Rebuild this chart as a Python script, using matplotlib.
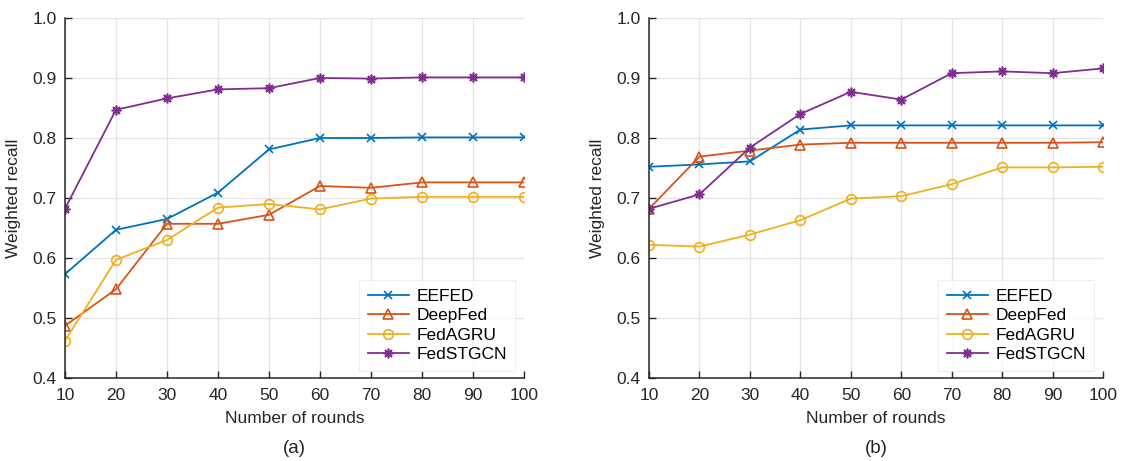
import numpy as np
import matplotlib.pyplot as plt

plt.rcParams['font.family'] = ['Liberation Sans', 'DejaVu Sans']

rounds = [10, 20, 30, 40, 50, 60, 70, 80, 90, 100]
methods = ['EEFED', 'DeepFed', 'FedAGRU', 'FedSTGCN']

# weighted recall, panel (a)
eefed_a = [0.573, 0.647, 0.665, 0.709, 0.781, 0.800, 0.800, 0.801, 0.801, 0.801]
deepfed_a = [0.487, 0.548, 0.657, 0.657, 0.672, 0.720, 0.717, 0.726, 0.726, 0.726]
fedagru_a = [0.462, 0.597, 0.630, 0.684, 0.690, 0.681, 0.699, 0.702, 0.702, 0.702]
fedstgcn_a = [0.682, 0.847, 0.866, 0.881, 0.883, 0.900, 0.899, 0.901, 0.901, 0.901]

# weighted recall, panel (b)
eefed_b = [0.752, 0.756, 0.761, 0.814, 0.821, 0.821, 0.821, 0.821, 0.821, 0.821]
deepfed_b = [0.682, 0.769, 0.779, 0.789, 0.792, 0.792, 0.792, 0.792, 0.792, 0.793]
fedagru_b = [0.622, 0.619, 0.639, 0.663, 0.699, 0.703, 0.723, 0.751, 0.751, 0.752]
fedstgcn_b = [0.682, 0.706, 0.784, 0.840, 0.877, 0.864, 0.908, 0.911, 0.908, 0.916]

colors = ['#0072BD', '#D95319', '#EDB120', '#7E2F8E']
markers = ['x', '^', 'o', (8, 2, 0)]
msizes = [5.5, 7, 7, 7]

fig = plt.figure(figsize=(11.26, 4.61), dpi=100)
ax1 = fig.add_axes([0.0577, 0.180, 0.4077, 0.781])
ax2 = fig.add_axes([0.5764, 0.180, 0.4032, 0.781])

panels = [(ax1, [eefed_a, deepfed_a, fedagru_a, fedstgcn_a], '(a)'),
          (ax2, [eefed_b, deepfed_b, fedagru_b, fedstgcn_b], '(b)')]

for ax, series, tag in panels:
    for vals, name, c, m, ms in zip(series, methods, colors, markers, msizes):
        ax.plot(rounds, vals, color=c, marker=m, markersize=ms, lw=1.3,
                markerfacecolor='none', markeredgecolor=c, markeredgewidth=1.2,
                label=name)
    ax.set_xlim(10, 100)
    ax.set_ylim(0.4, 1.0)
    ax.set_xticks(rounds)
    ax.set_yticks(np.arange(0.4, 1.01, 0.1))
    ax.set_yticklabels(['%.1f' % v for v in np.arange(0.4, 1.01, 0.1)])
    ax.grid(True, color='#e3e3e3', lw=0.9)
    ax.set_axisbelow(True)
    for s in ['top', 'right']:
        ax.spines[s].set_visible(False)
    for s in ['left', 'bottom']:
        ax.spines[s].set_color('#262626')
        ax.spines[s].set_linewidth(1.1)
    ax.tick_params(direction='in', length=5, width=1, colors='#262626',
                   labelsize=12.5)
    ax.tick_params(axis='x', pad=7)
    ax.tick_params(axis='y', pad=6)
    ax.set_xlabel('Number of rounds', fontsize=12.5, color='#262626', labelpad=6)
    ax.set_ylabel('Weighted recall', fontsize=12.5, color='#262626', labelpad=8)
    leg = ax.legend(loc='lower right', bbox_to_anchor=(1.0, -0.005), fontsize=12.5,
                    frameon=True, fancybox=False, handlelength=2.4,
                    handletextpad=0.4, labelspacing=0.25, borderpad=0.5)
    leg.get_frame().set_edgecolor('#ececec')
    leg.get_frame().set_linewidth(0.8)
    pos = ax.get_position()
    fig.text((pos.x0 + pos.x1) / 2, 0.028, tag, ha='center', va='center',
             fontsize=13.5, color='#262626')

fig.savefig('out.png', dpi=100)
